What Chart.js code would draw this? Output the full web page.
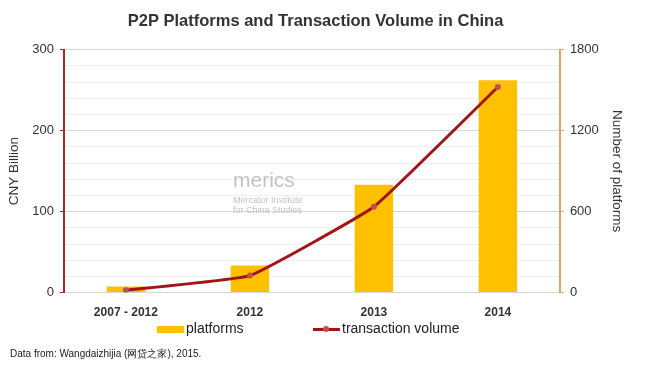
<!DOCTYPE html>
<html>
<head>
<meta charset="utf-8">
<script src="https://cdn.jsdelivr.net/npm/chart.js@4"></script>
<style>
  body { margin: 0; background: #fff; font-family: "Liberation Sans", Arial, sans-serif; }
  #wrap { position: relative; width: 650px; height: 368px; overflow: hidden; }
  #box { position: absolute; left: 0; top: 0; width: 650px; height: 325px; }
  .legend { position: absolute; top: 320px; font-size: 14px; color: #222; }
  .sw { display: inline-block; vertical-align: middle; }
  #source { position: absolute; left: 10px; top: 347px; font-size: 10px; color: #222; }
  #merics { position: absolute; left: 233px; top: 168px; color: #c4c4c4; font-size: 21px; }
  #merics small { display: block; font-size: 9px; line-height: 10px; margin-top: 3px; }
</style>
</head>
<body>
<div id="wrap">
  <div id="box"><canvas id="c"></canvas></div>
  <div id="merics">merics<small>Mercator Institute<br>for China Studies</small></div>
  <div class="legend" style="left:157px"><span class="sw" style="width:27px;height:7px;background:#FFC000;margin-right:2px"></span>platforms</div>
  <div class="legend" style="left:313px"><span class="sw" style="position:relative;width:27px;height:3px;background:#A31515;margin-right:2px"><span style="position:absolute;left:10px;top:-2px;width:6px;height:6px;border-radius:50%;background:#C0504D"></span></span>transaction volume</div>
  <div id="source">Data from: Wangdaizhijia (网贷之家), 2015.</div>
</div>
<script>
let categories = ["2007 - 2012", "2012", "2013", "2014"]
let platforms = [45, 200, 800, 1575]
let volume = [3, 21, 106, 254]
let leftLabels = [0, 100, 200, 300]
let rightLabels = [0, 600, 1200, 1800]

let canvas = document.querySelector("#c")

let config = {
    type: 'bar',
    data: {
        labels: categories,
        datasets: [
            {
                type: 'line',
                label: 'transaction volume',
                data: volume,
                borderColor: '#A31515',
                borderWidth: 3,
                backgroundColor: '#C0504D',
                pointRadius: 3,
                pointBorderWidth: 0,
                tension: 0.1,
                yAxisID: 'y',
                order: 0
            },
            {
                label: 'platforms',
                data: platforms,
                backgroundColor: '#FFC000',
                barPercentage: 0.31,
                categoryPercentage: 1,
                yAxisID: 'y1',
                order: 1
            }
        ]
    },
    options: {
        responsive: true,
        maintainAspectRatio: false,
        animation: false,
        layout: { padding: { left: 2, right: 21, top: 0, bottom: 0 } },
        plugins: {
            legend: { display: false },
            tooltip: { enabled: false },
            title: {
                display: true,
                text: 'P2P Platforms and Transaction Volume in China',
                color: '#333',
                font: { family: 'Liberation Sans', size: 16.5, weight: 'bold' },
                padding: { top: 12, bottom: 18 }
            }
        },
        scales: {
            x: {
                grid: { display: false },
                border: { display: false },
                ticks: {
                    color: '#333',
                    font: { family: 'Liberation Sans', size: 12, weight: 'bold' },
                    padding: 5
                }
            },
            y: {
                position: 'left',
                min: 0,
                max: 300,
                ticks: {
                    stepSize: 20,
                    autoSkip: false,
                    padding: 6,
                    color: '#333',
                    font: { family: 'Liberation Sans', size: 13 },
                    callback: (v) => leftLabels.includes(v) ? v : ''
                },
                grid: {
                    color: (c) => c.tick && leftLabels.includes(c.tick.value) ? '#d6d6d6' : '#f0f0f0',
                    tickColor: (c) => c.tick && leftLabels.includes(c.tick.value) ? '#A52A2A' : 'rgba(0,0,0,0)',
                    tickLength: 4
                },
                border: { color: '#A52A2A', width: 2 },
                title: {
                    display: true,
                    text: 'CNY Billion',
                    color: '#333',
                    font: { family: 'Liberation Sans', size: 13.5 },
                    padding: 4
                }
            },
            y1: {
                position: 'right',
                min: 0,
                max: 1800,
                ticks: {
                    stepSize: 120,
                    autoSkip: false,
                    padding: 6,
                    color: '#333',
                    font: { family: 'Liberation Sans', size: 13 },
                    callback: (v) => rightLabels.includes(v) ? v : ''
                },
                grid: {
                    drawOnChartArea: false,
                    tickColor: (c) => c.tick && rightLabels.includes(c.tick.value) ? '#E8A060' : 'rgba(0,0,0,0)',
                    tickLength: 4
                },
                border: { color: '#E8A060', width: 2 },
                title: {
                    display: true,
                    text: 'Number of platforms',
                    color: '#333',
                    font: { family: 'Liberation Sans', size: 13.5 },
                    padding: 4
                }
            }
        }
    }
}
const myChart = new Chart(canvas, config)
</script>
</body>
</html>
